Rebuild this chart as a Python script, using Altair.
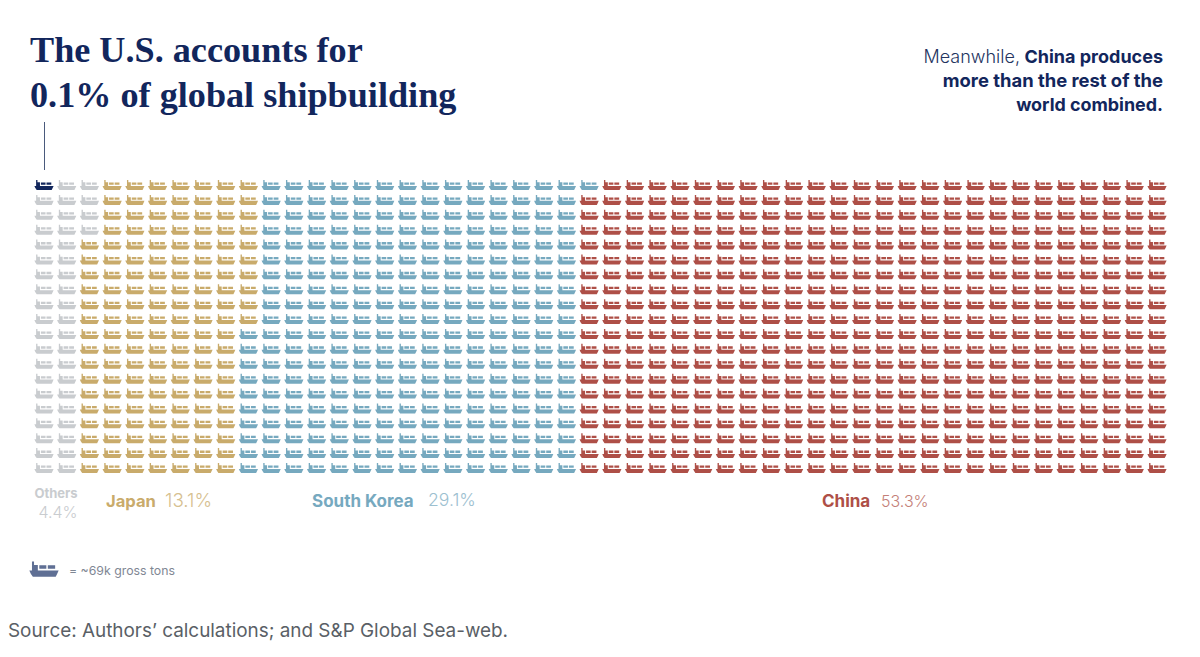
import altair as alt
import pandas as pd

ROWS = 20
groups = ["United States", "Others", "Japan", "South Korea", "China"]
counts = [1, 43, 146, 291, 519]
colors = ["#12265c", "#c9cccf", "#c9ab6b", "#76a9bf", "#ae4f47"]

cell_group = [g for g, c in zip(groups, counts) for _ in range(c)]
cells = pd.DataFrame({
    "i": range(len(cell_group)),
    "group": cell_group,
})
cells["col"] = cells["i"] // ROWS
cells["row"] = cells["i"] % ROWS

SHIP = ("M-1 0.1 L1 0.1 L0.9 0.32 L0.8 0.52 L-0.76 0.52 L-0.9 0.32 Z "
        "M-0.82 -0.52 L-0.68 -0.52 L-0.68 -0.28 L-0.42 -0.28 L-0.42 0.1 L-0.82 0.1 Z "
        "M-0.32 -0.26 L0.16 -0.26 L0.16 -0.02 L-0.32 -0.02 Z "
        "M0.26 -0.26 L0.76 -0.26 L0.76 -0.02 L0.26 -0.02 Z")

ships = alt.Chart(cells).mark_point(shape=SHIP, filled=True, opacity=1, strokeWidth=0, size=370).encode(
    x=alt.X("col:Q", axis=None, scale=alt.Scale(domain=[0, 49], range=[36, 1149])),
    y=alt.Y("row:Q", axis=None, scale=alt.Scale(domain=[0, 19], range=[177, 460])),
    color=alt.Color("group:N", legend=None, scale=alt.Scale(domain=groups, range=colors)),
)

dummy = pd.DataFrame({"a": [0]})
SANS = "Inter"
SERIF = "Liberation Serif"
NAVY = "#12265c"


def text(label, x, y, size, color, weight="normal", align="left", font=SANS):
    return alt.Chart(dummy).mark_text(
        text=label, align=align, baseline="alphabetic", fontSize=size,
        font=font, fontWeight=weight, color=color,
    ).encode(x=alt.value(x - 8), y=alt.value(y - 8))


layers = [
    ships,
    alt.Chart(dummy).mark_rule(color="#4a5a7c", strokeWidth=1).encode(
        x=alt.value(36.5), y=alt.value(114), y2=alt.value(162)),
    alt.Chart(dummy).mark_point(shape=SHIP, filled=True, opacity=1, strokeWidth=0, color="#5f6f94").encode(
        x=alt.value(36), y=alt.value(561), size=alt.value(860)),
    text("The U.S. accounts for", 30, 62, 36.2, NAVY, "bold", font=SERIF),
    text("0.1% of global shipbuilding", 30, 107, 36.2, NAVY, "bold", font=SERIF),
    text("Meanwhile,", 1020, 62.5, 18, "#24345f", 300, "right"),
    text("China produces", 1163, 62.5, 18, NAVY, "bold", "right"),
    text("more than the rest of the", 1163, 86.5, 18.4, NAVY, "bold", "right"),
    text("world combined.", 1163, 111, 17.9, NAVY, "bold", "right"),
    text("Others", 56, 498, 13, "#c9cccf", "bold", "center"),
    text("4.4%", 58, 518, 16, "#c9cccf", 300, "center"),
    text("Japan", 106, 507, 16.6, "#c9ab6b", "bold"),
    text("13.1%", 165, 507, 18.8, "#d6c08f", 300),
    text("South Korea", 312, 507, 17, "#76a9bf", "bold"),
    text("29.1%", 428, 506, 17.6, "#9cc0d0", 300),
    text("China", 822, 507, 17, "#ae4f47", "bold"),
    text("53.3%", 881, 507, 16, "#c47f78", 300),
    text("= ~69k gross tons", 69, 575, 12.3, "#7f8794", "normal"),
    text("Source: Authors\u2019 calculations; and S&P Global Sea-web.", 8, 637, 18.9, "#5a5f66", "normal"),
]

chart = alt.layer(*layers).properties(
    width=1184, height=640, padding=0, autosize=alt.AutoSizeParams(type="none"),
    background="#ffffff",
).configure_view(stroke=None)

chart.save("out.html", embed_options={"renderer": "svg", "actions": False})
